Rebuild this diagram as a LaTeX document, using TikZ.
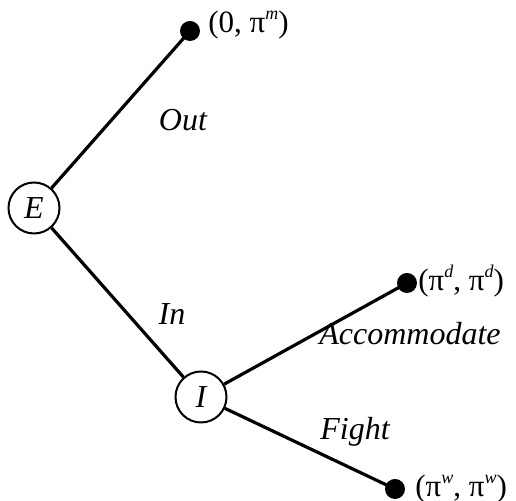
\documentclass[tikz,border=0pt]{standalone}
\usepackage{fontspec}
\setmainfont{Liberation Serif}
\usepackage{tikz}
\usetikzlibrary{positioning}
\newcommand{\pipow}[1]{π\raisebox{0.42em}{\fontsize{9}{10}\selectfont\itshape #1}}

\begin{document}
\begin{tikzpicture}[
    x=0.5pt, y=-0.5pt,
    font=\fontsize{16}{19}\selectfont,
    player/.style={circle, draw, line width=1pt, minimum size=25.5pt, inner sep=0pt, font=\fontsize{16}{19}\selectfont\itshape},
    leaf/.style={circle, fill=black, inner sep=0pt, minimum size=10pt},
    payoff/.style={anchor=west, inner sep=0pt, font=\fontsize{15.5}{18}\selectfont},
    move/.style={font=\fontsize{16}{19}\selectfont\itshape, inner sep=0pt},
    branch/.style={line width=1.6pt}
]
    \useasboundingbox (0,0) rectangle (516,501);

    % Decision nodes
    \node[player] (entrant) at (34,208) {E};
    \node[player] (incumbent) at (201,397) {I};

    % Terminal nodes
    \node[leaf] (out) at (190,31) {};
    \node[leaf] (acc) at (407,283) {};
    \node[leaf] (fight) at (395,489) {};

    % Payoffs
    \node[payoff] (pout) at (208,25) {(0, \pipow{m})};
    \node[payoff] (pacc) at (418,281) {(\pipow{d}, \pipow{d})};
    \node[payoff] (pfight) at (415,489) {(\pipow{w}, \pipow{w})};

    % Branches
    \draw[branch] (entrant) -- (out.center);
    \draw[branch] (entrant) -- (incumbent);
    \draw[branch] (incumbent) -- (acc.center);
    \draw[branch] (incumbent) -- (fight.center);

    % Move labels
    \node[move] at (183,120) {Out};
    \node[move] at (172,314) {In};
    \node[move] at (410,334) {Accommodate};
    \node[move] at (355,432) {Fight};
\end{tikzpicture}
\end{document}
